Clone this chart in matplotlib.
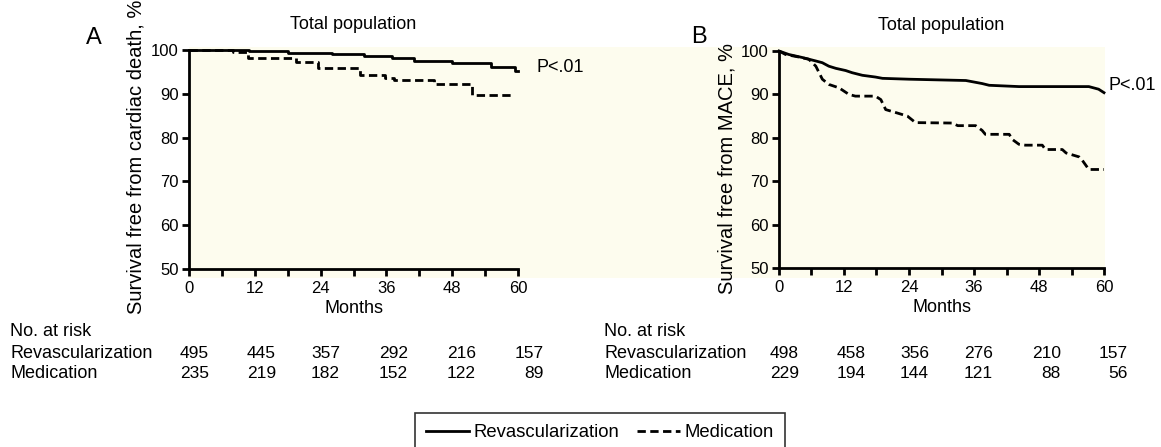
import matplotlib
matplotlib.use("Agg")
import matplotlib.pyplot as plt
from matplotlib.patches import Rectangle

plt.rcParams['font.family'] = ['Liberation Sans', 'DejaVu Sans']

# ---------------- data ----------------
months_ticks = [0, 12, 24, 36, 48, 60]

# Panel A: survival free from cardiac death
revA_t = [0, 5, 11, 18, 26, 32, 37, 41, 48, 55, 59.5, 60]
revA_s = [100, 99.9, 99.7, 99.4, 99.0, 98.6, 98.2, 97.6, 97.1, 96.1, 95.3, 95.3]
medA_t = [0, 8, 10.8, 19.6, 23.6, 31.2, 35.7, 37.3, 44.6, 51.6, 59.1]
medA_s = [100, 99.5, 98.1, 97.2, 96.0, 94.3, 93.5, 93.1, 92.3, 89.7, 89.7]

# Panel B: survival free from MACE
revB_t = [0, 1.8, 4.3, 6.8, 8, 9.2, 10.5, 12.3, 13.5, 15.4, 17.8, 19.1, 24, 34.5,
          37.5, 38.8, 44.3, 57.2, 59, 60]
revB_s = [100, 99.2, 98.5, 97.7, 97.3, 96.5, 96.0, 95.5, 95.0, 94.4, 94.0, 93.7, 93.5,
          93.2, 92.5, 92.1, 91.8, 91.8, 91.2, 90.4]
medB_t = [0, 1.2, 3.7, 5.5, 6.8, 8.0, 9.2, 11.1, 12.9, 14.1, 17.8, 18.8, 19.7, 21.6,
          23.7, 25.2, 32.0, 33.0, 36.3, 37.5, 38.1, 42.5, 43.1, 44.3, 45.5, 48.6, 49.2,
          52.3, 53.0, 55.4, 56.0, 57.2, 60]
medB_s = [100, 99.2, 98.6, 98.1, 96.5, 93.5, 92.3, 91.5, 90.0, 89.6, 89.6, 88.8, 86.5,
          85.8, 85.0, 83.5, 83.4, 82.8, 82.8, 81.7, 80.8, 80.8, 79.6, 78.5, 78.3, 78.3,
          77.3, 77.3, 76.5, 75.6, 74.8, 72.7, 72.7]

riskA_rev = [495, 445, 357, 292, 216, 157]
riskA_med = [235, 219, 182, 152, 122, 89]
riskB_rev = [498, 458, 356, 276, 210, 157]
riskB_med = [229, 194, 144, 121, 88, 56]

series_labels = ["Revascularization", "Medication"]
ylabels = ["Survival free from cardiac death, %", "Survival free from MACE, %"]
panel_titles = ["Total population", "Total population"]
panel_letters = ["A", "B"]
p_text = "P<.01"

# ---------------- layout ----------------
W, H = 1161, 447
fig = plt.figure(figsize=(W / 100, H / 100), dpi=100)


def fx(x):
    return x / W


def fy(y):
    return 1 - y / H


def axes_px(x0, y0, x1, y1):
    return fig.add_axes([fx(x0), fy(y1), fx(x1) - fx(x0), fy(y0) - fy(y1)])


# cream background band
fig.add_artist(Rectangle((fx(189), fy(278)), fx(1105) - fx(189), fy(47) - fy(278),
                         transform=fig.transFigure, facecolor='#FDFCEE',
                         edgecolor='none', zorder=0))

axA = axes_px(189, 50, 518, 269)
axB = axes_px(779, 51, 1104, 268)

dash = (0, (3, 1.6))
lA1, = axA.plot(revA_t, revA_s, color='black', lw=2.0, drawstyle='steps-post',
                clip_on=False, label=series_labels[0])
lA2, = axA.plot(medA_t, medA_s, color='black', lw=2.0, ls=dash, drawstyle='steps-post',
                clip_on=False, label=series_labels[1])
axB.plot(revB_t, revB_s, color='black', lw=2.0, clip_on=False)
axB.plot(medB_t, medB_s, color='black', lw=2.0, ls=dash, clip_on=False)

label_pos = {0: ((145 - 189) / 329, 0.51), 1: ((737 - 779) / 325, 0.46)}
for i, (ax, yl, ttl) in enumerate(zip([axA, axB], ylabels, panel_titles)):
    ax.set_facecolor('none')
    ax.set_xlim(0, 60)
    ax.set_ylim(50, 100)
    for s in ['top', 'right']:
        ax.spines[s].set_visible(False)
    for s in ['left', 'bottom']:
        ax.spines[s].set_linewidth(2.0)
    ax.set_xticks(months_ticks)
    ax.set_xticks([6, 18, 30, 42, 54], minor=True)
    ax.set_yticks([50, 60, 70, 80, 90, 100])
    ax.tick_params(axis='both', which='both', direction='out', length=5, width=2,
                   labelsize=12, pad=2.5, colors='black')
    ax.tick_params(axis='x', which='both', pad=3.5)
    ax.set_xlabel("Months", fontsize=13, labelpad=3)
    ax.set_ylabel(yl, fontsize=14.5)
    ax.yaxis.set_label_coords(*label_pos[i])
    ax.set_title(ttl, fontsize=13, pad=15)

# panel letters
fig.text(fx(94), fy(38), panel_letters[0], fontsize=17, ha='center', va='center')
fig.text(fx(699), fy(37), panel_letters[1], fontsize=17, ha='center', va='center')

# p values
fig.text(fx(536), fy(67), p_text, fontsize=13, ha='left', va='center')
fig.text(fx(1109), fy(85), p_text, fontsize=13, ha='left', va='center')

# numbers at risk
rowsA_x = [209, 276, 340, 408, 476, 544]
rowsB_x = [799, 866, 929, 993, 1061, 1128]
row_y = [331, 353, 374]
for x0, xs, rr, rm in [(10, rowsA_x, riskA_rev, riskA_med),
                       (604, rowsB_x, riskB_rev, riskB_med)]:
    fig.text(fx(x0), fy(row_y[0]), "No. at risk", fontsize=13, ha='left', va='center')
    fig.text(fx(x0), fy(row_y[1]), series_labels[0], fontsize=13, ha='left', va='center')
    fig.text(fx(x0), fy(row_y[2]), series_labels[1], fontsize=13, ha='left', va='center')
    for x, a, b in zip(xs, rr, rm):
        fig.text(fx(x), fy(row_y[1]), str(a), fontsize=12.5, ha='right', va='center')
        fig.text(fx(x), fy(row_y[2]), str(b), fontsize=12.5, ha='right', va='center')

# legend (box runs off the bottom edge)
leg = fig.legend(handles=[lA1, lA2], labels=series_labels, loc='upper left',
                 bbox_to_anchor=(fx(415), fy(413)), ncol=2, frameon=True,
                 fancybox=False, edgecolor='black', fontsize=13.3, borderpad=0.6,
                 handlelength=2.3, handletextpad=0.25, columnspacing=1.0,
                 borderaxespad=0)
leg.get_frame().set_linewidth(1.2)

fig.savefig("out.png", dpi=100)
